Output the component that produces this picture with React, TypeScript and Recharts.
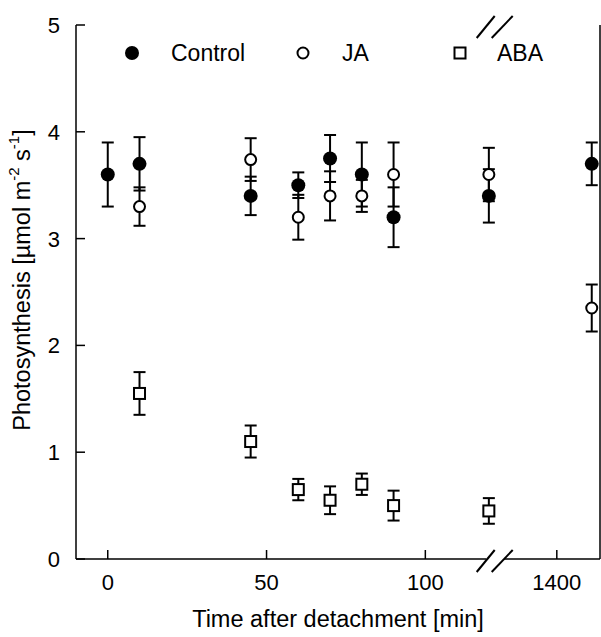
import React from 'react';
import {
  ScatterChart,
  Scatter,
  XAxis,
  YAxis,
  ErrorBar,
  Legend,
  ReferenceDot,
} from 'recharts';

const FONT = '"Liberation Sans", Arial, Helvetica, sans-serif';

// Control (filled circles)
const controlTimes = [0, 10, 45, 60, 70, 80, 90, 120, 1440];
const controlMean = [3.6, 3.7, 3.4, 3.5, 3.75, 3.6, 3.2, 3.4, 3.7];
const controlErr = [0.3, 0.25, 0.18, 0.12, 0.22, 0.3, 0.28, 0.25, 0.2];

// JA (open circles)
const jaTimes = [10, 45, 60, 70, 80, 90, 120, 1440];
const jaMean = [3.3, 3.74, 3.2, 3.4, 3.4, 3.6, 3.6, 2.35];
const jaErr = [0.18, 0.2, 0.21, 0.23, 0.15, 0.3, 0.25, 0.22];

// ABA (open squares)
const abaTimes = [10, 45, 60, 70, 80, 90, 120];
const abaMean = [1.55, 1.1, 0.65, 0.55, 0.7, 0.5, 0.45];
const abaErr = [0.2, 0.15, 0.1, 0.13, 0.1, 0.14, 0.12];

const xTickLabels = [0, 50, 100, 1400];
const yTicks = [0, 1, 2, 3, 4, 5];

// broken time axis: 0-130 min linear, then the 1400+ part squeezed in after the break
const toPos = (t: number) => (t < 1000 ? t : 141.4 + (t - 1400) * 0.275);
const BREAK_POS = 122;

const build = (times: number[], means: number[], errs: number[]) =>
  times.map((t, i) => ({ pos: toPos(t), value: means[i], err: errs[i] }));

const controlData = build(controlTimes, controlMean, controlErr);
const jaData = build(jaTimes, jaMean, jaErr);
const abaData = build(abaTimes, abaMean, abaErr);

const FilledCircle = (p: any) => <circle cx={p.cx} cy={p.cy} r={7} fill="#000" />;
const OpenCircle = (p: any) => (
  <circle cx={p.cx} cy={p.cy} r={5.5} fill="#fff" stroke="#000" strokeWidth={2} />
);
const OpenSquare = (p: any) => (
  <rect x={p.cx - 5.5} y={p.cy - 5.5} width={11} height={11} fill="#fff" stroke="#000" strokeWidth={2} />
);

const XTick = (props: any) => {
  const { x, y, payload } = props;
  const label = xTickLabels.find((l) => Math.abs(toPos(l) - payload.value) < 1e-6);
  return (
    <g>
      <line x1={x} y1={y} x2={x} y2={y - 9} stroke="#000" strokeWidth={1.5} />
      <text x={x} y={y + 31} textAnchor="middle" fontSize={22} fontFamily={FONT} fill="#000">
        {label}
      </text>
    </g>
  );
};

const YTick = (props: any) => {
  const { x, y, payload } = props;
  return (
    <g>
      <line x1={x} y1={y} x2={x + 9} y2={y} stroke="#000" strokeWidth={1.5} />
      <text x={x - 16} y={y + 8} textAnchor="end" fontSize={22} fontFamily={FONT} fill="#000">
        {payload.value}
      </text>
    </g>
  );
};

const YTitle = (props: any) => {
  const vb = props.viewBox || { x: 0, y: 25, width: 76, height: 534 };
  const cx = 22;
  const cy = vb.y + vb.height / 2 - 12;
  return (
    <text
      x={cx}
      y={cy}
      transform={`rotate(-90, ${cx}, ${cy})`}
      textAnchor="middle"
      dominantBaseline="central"
      fontSize={23.5}
      fontFamily={FONT}
      fill="#000"
    >
      Photosynthesis [µmol m
      <tspan dy={-9} fontSize={15}>-2</tspan>
      <tspan dy={9}> s</tspan>
      <tspan dy={-9} fontSize={15}>-1</tspan>
      <tspan dy={9}>]</tspan>
    </text>
  );
};

const XTitle = (props: any) => {
  const vb = props.viewBox || { x: 76, y: 559, width: 524, height: 78 };
  return (
    <text
      x={vb.x + vb.width / 2}
      y={vb.y + 68}
      textAnchor="middle"
      fontSize={23.5}
      fontFamily={FONT}
      fill="#000"
    >
      Time after detachment [min]
    </text>
  );
};

const BreakMark = (p: any) => {
  const { cx, cy } = p;
  return (
    <g>
      <rect x={cx - 9} y={cy - 3} width={18} height={6} fill="#fff" />
      <line x1={cx - 18.5} y1={cy + 13} x2={cx - 0.5} y2={cy - 9} stroke="#000" strokeWidth={2} />
      <line x1={cx - 3.5} y1={cy + 13} x2={cx + 17.5} y2={cy - 9} stroke="#000" strokeWidth={2} />
    </g>
  );
};

const legendItems = [
  { name: 'Control', mark: 'filled', mx: 132, tx: 171 },
  { name: 'JA', mark: 'open', mx: 303, tx: 342 },
  { name: 'ABA', mark: 'square', mx: 460, tx: 497 },
];

const LegendContent = () => (
  <svg width={601} height={80}>
    {legendItems.map((it) => (
      <g key={it.name}>
        {it.mark === 'filled' && <FilledCircle cx={it.mx} cy={53} />}
        {it.mark === 'open' && <OpenCircle cx={it.mx} cy={53} />}
        {it.mark === 'square' && <OpenSquare cx={it.mx} cy={53} />}
        <text x={it.tx} y={61} fontSize={23} fontFamily={FONT} fill="#000">
          {it.name}
        </text>
      </g>
    ))}
  </svg>
);

const axisLine = { stroke: '#000', strokeWidth: 1.5 };

export default function App() {
  return (
    <div style={{ position: 'absolute', left: 0, top: 0, background: '#fff' }}>
      <ScatterChart width={601} height={637} margin={{ top: 25, right: 0, left: 0, bottom: 0 }}>
        <XAxis
          dataKey="pos"
          type="number"
          domain={[-10, 155]}
          ticks={xTickLabels.map(toPos)}
          tick={<XTick />}
          tickLine={false}
          tickSize={0}
          tickMargin={0}
          axisLine={axisLine}
          height={78}
          label={<XTitle />}
        />
        <XAxis
          xAxisId="top"
          orientation="top"
          type="number"
          domain={[-10, 155]}
          tick={false}
          tickLine={false}
          axisLine={axisLine}
          height={0}
        />
        <YAxis
          dataKey="value"
          type="number"
          domain={[0, 5]}
          ticks={yTicks}
          tick={<YTick />}
          tickLine={false}
          tickSize={0}
          tickMargin={0}
          axisLine={axisLine}
          width={76}
          label={<YTitle />}
        />
        <YAxis
          yAxisId="right"
          orientation="right"
          type="number"
          domain={[0, 5]}
          tick={false}
          tickLine={false}
          axisLine={axisLine}
          width={1}
        />
        <Legend
          layout="vertical"
          align="center"
          verticalAlign="middle"
          content={<LegendContent />}
          wrapperStyle={{ position: 'absolute', left: 0, top: 0, width: 601, height: 80 }}
        />
        <Scatter name="Control" data={controlData} shape={FilledCircle} isAnimationActive={false}>
          <ErrorBar dataKey="err" direction="y" width={6} stroke="#000" strokeWidth={2} />
        </Scatter>
        <Scatter name="JA" data={jaData} shape={OpenCircle} isAnimationActive={false}>
          <ErrorBar dataKey="err" direction="y" width={6} stroke="#000" strokeWidth={2} />
        </Scatter>
        <Scatter name="ABA" data={abaData} shape={OpenSquare} isAnimationActive={false}>
          <ErrorBar dataKey="err" direction="y" width={6} stroke="#000" strokeWidth={2} />
        </Scatter>
        <ReferenceDot x={BREAK_POS} y={0} r={0} shape={BreakMark} ifOverflow="visible" />
        <ReferenceDot x={BREAK_POS} y={5} r={0} shape={BreakMark} ifOverflow="visible" />
      </ScatterChart>
    </div>
  );
}
